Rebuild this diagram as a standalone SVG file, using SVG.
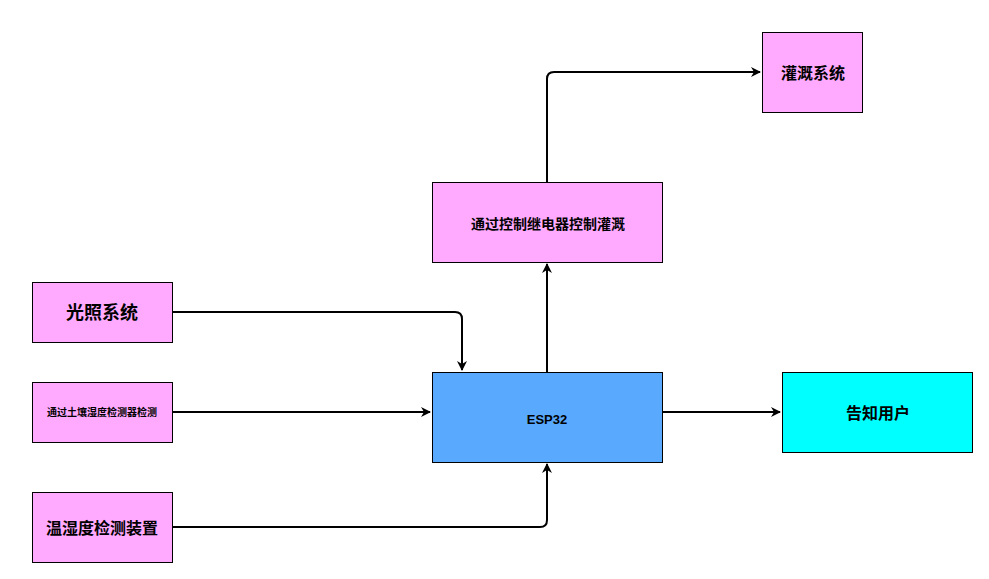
<svg xmlns="http://www.w3.org/2000/svg" width="989" height="579" viewBox="0 0 989 579">
<style>
.box{stroke:#000;stroke-width:1}
.pink{fill:#FFAAFF}
.t{font-family:"Liberation Sans","Noto Sans CJK SC",sans-serif;font-weight:bold;text-anchor:middle;dominant-baseline:central;fill:#000}
.e{fill:none;stroke:#000;stroke-width:2}
</style>
<defs>
<marker id="arr" viewBox="0 0 10 10" refX="9" refY="5" markerWidth="5" markerHeight="5" markerUnits="strokeWidth" orient="auto">
<path d="M0,0 L10,5 L0,10 L3,5 Z" fill="#000"/>
</marker>
</defs>
<rect width="989" height="579" fill="#fff"/>
<g id="connectors">
<path class="e" d="M172,312 H455 Q462,312 462,319 V370" marker-end="url(#arr)"/>
<path class="e" d="M172,412 H430" marker-end="url(#arr)"/>
<path class="e" d="M172,527 H540 Q547,527 547,520 V464" marker-end="url(#arr)"/>
<path class="e" d="M547,372 V264" marker-end="url(#arr)"/>
<path class="e" d="M547,182 V79 Q547,72 554,72 H760" marker-end="url(#arr)"/>
<path class="e" d="M662,412 H780" marker-end="url(#arr)"/>
</g>
<g id="light">
<rect class="box pink" x="32.5" y="282.5" width="140" height="60"/>
<text class="t" x="102" y="313" font-size="18">光照系统</text>
</g>
<g id="soil">
<rect class="box pink" x="32.5" y="382.5" width="140" height="60"/>
<text class="t" x="102" y="412" font-size="10">通过土壤湿度检测器检测</text>
</g>
<g id="temp">
<rect class="box pink" x="32.5" y="492.5" width="140" height="70"/>
<text class="t" x="102" y="528" font-size="16">温湿度检测装置</text>
</g>
<g id="relay">
<rect class="box pink" x="432.5" y="182.5" width="230" height="80"/>
<text class="t" x="548" y="224" font-size="14">通过控制继电器控制灌溉</text>
</g>
<g id="esp32">
<rect class="box" fill="#59A9FF" x="432.5" y="372.5" width="230" height="90"/>
<text class="t" x="547" y="419" font-size="13">ESP32</text>
</g>
<g id="irrigation">
<rect class="box pink" x="762.5" y="32.5" width="100" height="80"/>
<text class="t" x="813" y="73" font-size="16">灌溉系统</text>
</g>
<g id="notify">
<rect class="box" fill="#00FFFF" x="782.5" y="372.5" width="190" height="80"/>
<text class="t" x="878" y="413" font-size="16">告知用户</text>
</g>
</svg>
